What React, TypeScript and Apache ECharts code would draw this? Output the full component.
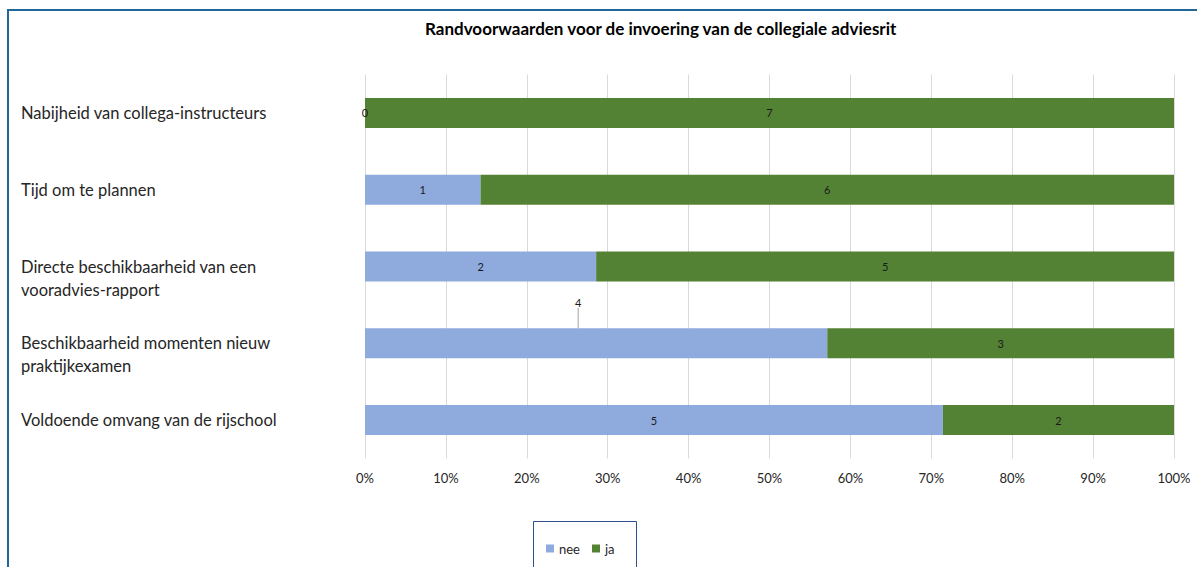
import React, { useEffect, useRef } from "react";
import * as echarts from "echarts";

const TITLE = "Randvoorwaarden voor de invoering van de collegiale adviesrit";
const categories = [
  "Nabijheid van collega-instructeurs",
  "Tijd om te plannen",
  "Directe beschikbaarheid van een\nvooradvies-rapport",
  "Beschikbaarheid momenten nieuw\npraktijkexamen",
  "Voldoende omvang van de rijschool",
];
const neeCounts = [0, 1, 2, 4, 5];
const jaCounts = [7, 6, 5, 3, 2];
const seriesNames = ["nee", "ja"];
const xTicks = [0, 10, 20, 30, 40, 50, 60, 70, 80, 90, 100];

const NEE_COLOR = "#8FAADC";
const JA_COLOR = "#548235";
const FONT = "Lato, 'Open Sans', sans-serif";

export default function App() {
  const ref = useRef<HTMLDivElement>(null);
  useEffect(() => {
    if (!ref.current) return;
    const chart = echarts.init(ref.current, null, { renderer: "svg" });
    const totals = neeCounts.map((n, i) => n + jaCounts[i]);
    const pct = (arr: number[]) => arr.map((v, i) => (v / totals[i]) * 100);
    const neePct = pct(neeCounts);
    const jaPct = pct(jaCounts);

    const labelStyle = {
      show: true,
      position: "inside",
      color: "#1a1a1a",
      fontSize: 11,
      fontFamily: FONT,
    };

    chart.setOption({
      animation: false,
      backgroundColor: "#ffffff",
      textStyle: { fontFamily: FONT },
      title: {
        text: TITLE,
        left: 425,
        top: 20,
        padding: 0,
        textStyle: { fontSize: 17, fontWeight: "bold", color: "#000", fontFamily: FONT },
      },
      grid: { left: 365, right: 23, top: 74.6, bottom: 108.6, containLabel: false },
      legend: {
        data: seriesNames,
        left: 546,
        top: 542,
        padding: 0,
        icon: "rect",
        itemWidth: 8,
        itemHeight: 8,
        itemGap: 12,
        textStyle: { fontSize: 13, color: "#262626", fontFamily: FONT },
      },
      xAxis: {
        type: "value",
        min: xTicks[0],
        max: xTicks[xTicks.length - 1],
        interval: 10,
        axisLine: { show: false },
        axisTick: { show: false },
        axisLabel: {
          formatter: "{value}%",
          fontSize: 13,
          color: "#262626",
          margin: 13,
          fontFamily: FONT,
        },
        splitLine: { show: true, lineStyle: { color: "#d9d9d9", width: 1 } },
      },
      yAxis: {
        type: "category",
        inverse: true,
        data: categories,
        axisLine: { show: false },
        axisTick: { show: false },
        axisLabel: {
          align: "left",
          margin: 344,
          fontSize: 16.5,
          lineHeight: 23,
          color: "#262626",
          fontFamily: FONT,
          formatter: (v: string) => (v.indexOf("\n") >= 0 ? "\n" + v : v),
        },
      },
      series: [
        {
          name: seriesNames[0],
          type: "bar",
          stack: "total",
          barWidth: 30,
          itemStyle: { color: NEE_COLOR },
          label: {
            ...labelStyle,
            formatter: (p: any) => String(neeCounts[p.dataIndex]),
          },
          labelLine: { show: false, lineStyle: { color: "#a6a6a6", width: 1 } },
          labelLayout: (p: any) => (p.dataIndex === 3 ? { dx: -18, dy: -41 } : {}),
          data: neePct.map((v, i) =>
            i === 3 ? { value: v, labelLine: { show: true } } : v
          ),
        },
        {
          name: seriesNames[1],
          type: "bar",
          stack: "total",
          barWidth: 30,
          itemStyle: { color: JA_COLOR },
          label: {
            ...labelStyle,
            formatter: (p: any) => String(jaCounts[p.dataIndex]),
          },
          data: jaPct,
        },
      ],
      graphic: [
        {
          type: "line",
          shape: { x1: 7, y1: 10, x2: 1197, y2: 10 },
          style: { stroke: "#22679A", lineWidth: 2 },
        },
        {
          type: "line",
          shape: { x1: 8, y1: 9, x2: 8, y2: 567 },
          style: { stroke: "#22679A", lineWidth: 2 },
        },
        {
          type: "rect",
          shape: { x: 533.5, y: 521.5, width: 103, height: 60 },
          style: { fill: "none", stroke: "#2F4F8F", lineWidth: 1 },
        },
      ],
    });
    return () => chart.dispose();
  }, []);
  return (
    <div
      ref={ref}
      style={{ position: "fixed", left: 0, top: 0, width: 1197, height: 567 }}
    />
  );
}
